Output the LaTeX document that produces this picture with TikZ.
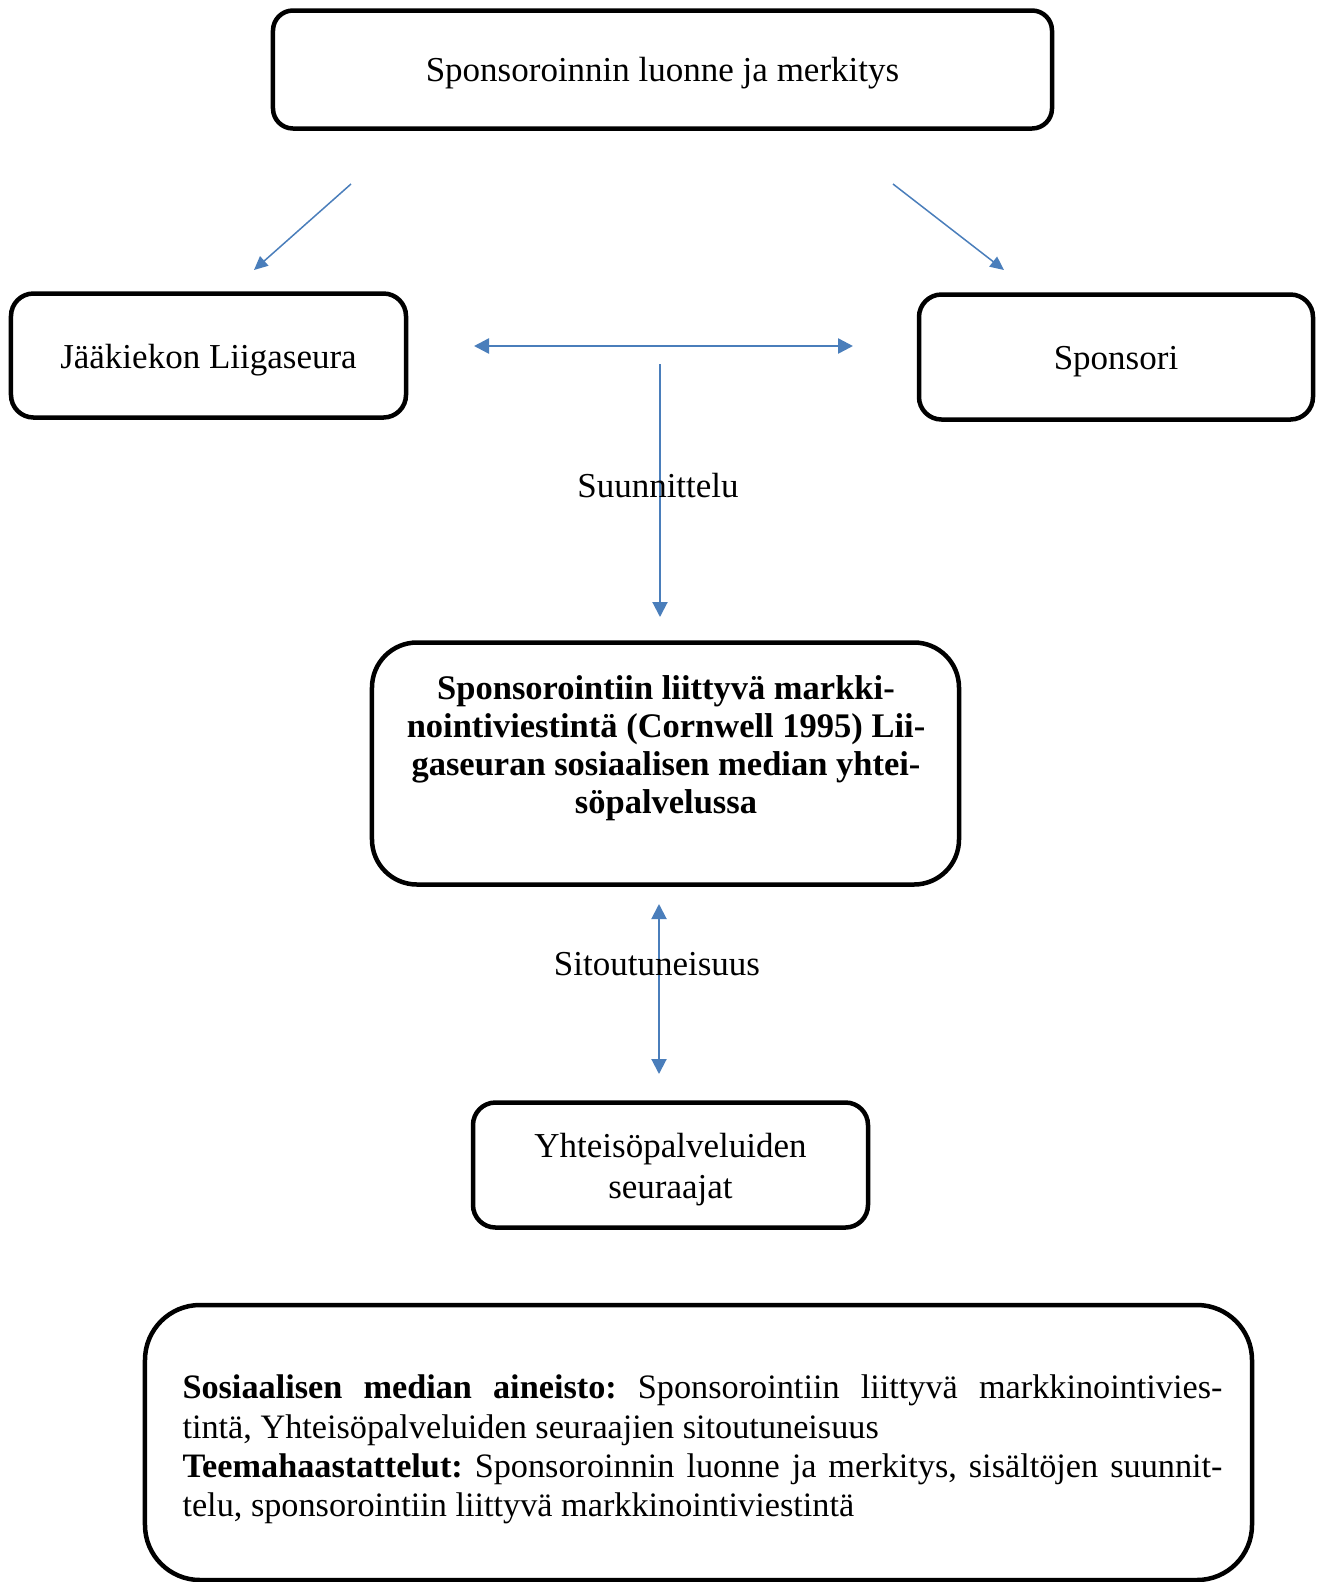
\documentclass[tikz,border=0pt]{standalone}
\usepackage{fontspec}
\setmainfont{Liberation Serif}
\usetikzlibrary{arrows.meta}
\definecolor{arrowblue}{HTML}{4A7EBB}
\begin{document}
\begin{tikzpicture}[x=0.4pt,y=-0.4pt,
  roundbox/.style={draw=black,line width=1.8pt,rounded corners=#1,inner sep=0pt,align=center},
  roundbox/.default=8pt,
  conn/.style={draw=arrowblue,line width=0.8pt},
  thinconn/.style={draw=arrowblue,line width=0.6pt},
  headend/.style={-{Triangle[length=6pt,width=6pt]}},
  smallend/.style={-{Triangle[length=5.5pt,width=5pt]}},
  bothends/.style={{Triangle[length=6pt,width=6pt]}-{Triangle[length=6pt,width=6pt]}},
  lbl/.style={inner sep=0pt},
  every node/.style={font=\fontsize{14}{15.4}\selectfont}]
\useasboundingbox (0,0) rectangle (1316,1582);

% boxes
\node[roundbox=8pt, minimum width=311.6pt, minimum height=47.2pt, text depth=0pt] (top) at (662.5,69.5) {Sponsoroinnin luonne ja merkitys};
\node[roundbox=9pt, minimum width=158pt, minimum height=49.6pt, text depth=0pt] (club) at (208.5,355.5) {\raisebox{-0.8pt}{Jääkiekon Liigaseura}};
\node[roundbox=9pt, minimum width=157.6pt, minimum height=50pt, text depth=0pt] (spons) at (1116,357) {\raisebox{-0.8pt}{Sponsori}};
\node[roundbox=18pt, minimum width=234.8pt, minimum height=96.8pt] (mid) at (665.5,763.5) {};
\node[lbl, align=center, font=\fontsize{13.8}{15.2}\selectfont\bfseries] (midtext) at (666,748.5)
  {Sponsorointiin liittyvä markki-\\nointiviestintä (Cornwell 1995) Lii-\\gaseuran sosiaalisen median yhtei-\\söpalvelussa};
\node[roundbox=9pt, minimum width=158pt, minimum height=50pt, text depth=0pt, font=\fontsize{14}{16.4}\selectfont] (foll) at (670.5,1165) {\raisebox{-0.8pt}{Yhteisöpalveluiden}\\\raisebox{-0.8pt}{seuraajat}};
\node[roundbox=22pt, minimum width=442.8pt, minimum height=110pt] (data) at (698.5,1442.5) {};
\node[lbl, anchor=west, text width=416pt, align=left, font=\fontsize{13.7}{15.75}\selectfont] (datatext) at (182,1449.5)
  {\spaceskip=0pt\xspaceskip=0pt\frenchspacing
   \makebox[416pt][s]{\textbf{Sosiaalisen median aineisto:} Sponsorointiin liittyvä markkinointivies-}\\
   tintä, Yhteisöpalveluiden seuraajien sitoutuneisuus\\
   \makebox[416pt][s]{\textbf{Teemahaastattelut:} Sponsoroinnin luonne ja merkitys, sisältöjen suunnit-}\\
   telu, sponsorointiin liittyvä markkinointiviestintä};

% arrow end points
\coordinate (a1s) at (351,184);
\coordinate (a1e) at (254,270);
\coordinate (a2s) at (893,184);
\coordinate (a2e) at (1004,270);
\coordinate (hl) at (474,346);
\coordinate (hr) at (853,346);
\coordinate (v1s) at (660,364);
\coordinate (v1e) at (660,617);
\coordinate (v2s) at (659,904);
\coordinate (v2e) at (659,1074);

\draw[thinconn, smallend] (a1s) -- (a1e);
\draw[thinconn, smallend] (a2s) -- (a2e);
\draw[conn, line width=1pt, bothends] (hl) -- (hr);
\draw[conn, headend] (v1s) -- (v1e);
\draw[conn, bothends] (v2s) -- (v2e);

% labels
\node[lbl] (plan) at (658,486) {Suunnittelu};
\node[lbl] (commit) at (657,964) {Sitoutuneisuus};
\end{tikzpicture}
\end{document}
